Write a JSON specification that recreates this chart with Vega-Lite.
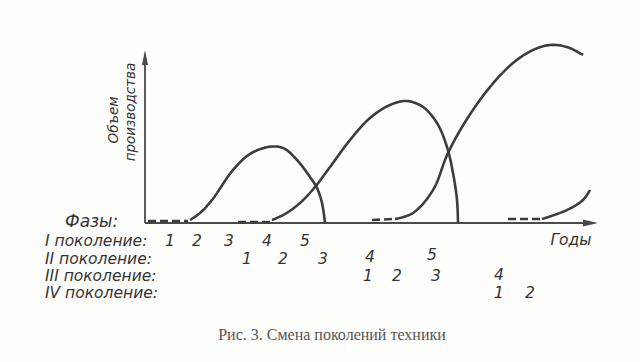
{
  "$schema": "https://vega.github.io/schema/vega-lite/v6.json",
  "width": 640,
  "height": 362,
  "padding": 0,
  "autosize": {"type": "none"},
  "background": "#fdfdfb",
  "config": {"view": {"stroke": null}},
  "datasets": {
    "curves": [
      {"g": "I", "kind": "solid", "t": 45, "v": 3},
      {"g": "I", "kind": "solid", "t": 55, "v": 10},
      {"g": "I", "kind": "solid", "t": 67, "v": 23},
      {"g": "I", "kind": "solid", "t": 88, "v": 53},
      {"g": "I", "kind": "solid", "t": 105, "v": 69},
      {"g": "I", "kind": "solid", "t": 123, "v": 76},
      {"g": "I", "kind": "solid", "t": 138, "v": 75},
      {"g": "I", "kind": "solid", "t": 152, "v": 63},
      {"g": "I", "kind": "solid", "t": 165, "v": 46},
      {"g": "I", "kind": "solid", "t": 172, "v": 35},
      {"g": "I", "kind": "solid", "t": 177, "v": 20},
      {"g": "I", "kind": "solid", "t": 180, "v": 0},
      {"g": "II", "kind": "solid", "t": 127, "v": 3},
      {"g": "II", "kind": "solid", "t": 140, "v": 9},
      {"g": "II", "kind": "solid", "t": 155, "v": 20},
      {"g": "II", "kind": "solid", "t": 170, "v": 36},
      {"g": "II", "kind": "solid", "t": 185, "v": 56},
      {"g": "II", "kind": "solid", "t": 205, "v": 83},
      {"g": "II", "kind": "solid", "t": 225, "v": 105},
      {"g": "II", "kind": "solid", "t": 245, "v": 118},
      {"g": "II", "kind": "solid", "t": 262, "v": 122},
      {"g": "II", "kind": "solid", "t": 278, "v": 116},
      {"g": "II", "kind": "solid", "t": 292, "v": 100},
      {"g": "II", "kind": "solid", "t": 302, "v": 76},
      {"g": "II", "kind": "solid", "t": 308, "v": 50},
      {"g": "II", "kind": "solid", "t": 312, "v": 23},
      {"g": "II", "kind": "solid", "t": 313, "v": 0},
      {"g": "III", "kind": "solid", "t": 250, "v": 4},
      {"g": "III", "kind": "solid", "t": 268, "v": 10},
      {"g": "III", "kind": "solid", "t": 288, "v": 33},
      {"g": "III", "kind": "solid", "t": 303, "v": 70},
      {"g": "III", "kind": "solid", "t": 322, "v": 104},
      {"g": "III", "kind": "solid", "t": 345, "v": 136},
      {"g": "III", "kind": "solid", "t": 368, "v": 160},
      {"g": "III", "kind": "solid", "t": 388, "v": 173},
      {"g": "III", "kind": "solid", "t": 405, "v": 178},
      {"g": "III", "kind": "solid", "t": 422, "v": 176},
      {"g": "III", "kind": "solid", "t": 438, "v": 168},
      {"g": "IV", "kind": "solid", "t": 397, "v": 4},
      {"g": "IV", "kind": "solid", "t": 422, "v": 13},
      {"g": "IV", "kind": "solid", "t": 438, "v": 23},
      {"g": "IV", "kind": "solid", "t": 445, "v": 33},
      {"g": "dI", "kind": "dash", "t": 3, "v": 2},
      {"g": "dI", "kind": "dash", "t": 43, "v": 2},
      {"g": "dII", "kind": "dash", "t": 93, "v": 1},
      {"g": "dII", "kind": "dash", "t": 126, "v": 1},
      {"g": "dIII", "kind": "dash", "t": 227, "v": 3},
      {"g": "dIII", "kind": "dash", "t": 248, "v": 4},
      {"g": "dIV", "kind": "dash", "t": 363, "v": 4},
      {"g": "dIV", "kind": "dash", "t": 396, "v": 4}
    ],
    "axes": [
      {"g": "x", "t": 0, "v": 0},
      {"g": "x", "t": 445, "v": 0},
      {"g": "y", "t": 0, "v": 0},
      {"g": "y", "t": 0, "v": 161}
    ],
    "labels": [
      {"t": -100, "v": -18, "text": "I поколение:"},
      {"t": -100, "v": -35.5, "text": "II поколение:"},
      {"t": -100, "v": -52.5, "text": "III поколение:"},
      {"t": -100, "v": -70, "text": "IV поколение:"}
    ],
    "phase": [
      {"t": -80, "v": 1, "text": "Фазы:"}
    ],
    "numbers": [
      {"t": 25, "v": -18, "text": "1"},
      {"t": 52, "v": -18, "text": "2"},
      {"t": 84, "v": -18, "text": "3"},
      {"t": 122, "v": -18, "text": "4"},
      {"t": 160, "v": -18, "text": "5"},
      {"t": 102, "v": -35.5, "text": "1"},
      {"t": 138, "v": -35.5, "text": "2"},
      {"t": 178, "v": -35.5, "text": "3"},
      {"t": 225, "v": -34, "text": "4"},
      {"t": 287, "v": -32, "text": "5"},
      {"t": 223, "v": -52.5, "text": "1"},
      {"t": 252, "v": -52.5, "text": "2"},
      {"t": 291, "v": -52.5, "text": "3"},
      {"t": 354, "v": -52, "text": "4"},
      {"t": 354, "v": -70, "text": "1"},
      {"t": 385, "v": -70, "text": "2"},
      {"t": 426, "v": -17, "text": "Годы"}
    ],
    "ytitle": [
      {"t": -31, "v": 103, "text": "Объем"},
      {"t": -14, "v": 111, "text": "производства"}
    ],
    "caption": [
      {"t": 187, "v": -112, "text": "Рис. 3. Смена поколений техники"}
    ],
    "arrows": [
      {"t": 443, "v": 0, "dir": "right"},
      {"t": 0, "v": 163, "dir": "up"}
    ]
  },
  "encoding": {
    "x": {"field": "t", "type": "quantitative", "scale": {"domain": [-145, 495], "nice": false, "zero": false}, "axis": null},
    "y": {"field": "v", "type": "quantitative", "scale": {"domain": [-139, 223], "nice": false, "zero": false}, "axis": null}
  },
  "layer": [
    {
      "data": {"name": "axes"},
      "mark": {"type": "line", "color": "#4a4a4a", "strokeWidth": 1.8},
      "encoding": {"detail": {"field": "g"}}
    },
    {
      "data": {"name": "arrows"},
      "transform": [{"filter": "datum.dir == 'right'"}],
      "mark": {"type": "point", "filled": true, "color": "#4a4a4a", "opacity": 1, "size": 400, "shape": "M1,0 L-0.5,0.35 L-0.5,-0.35 Z"}
    },
    {
      "data": {"name": "arrows"},
      "transform": [{"filter": "datum.dir == 'up'"}],
      "mark": {"type": "point", "filled": true, "color": "#4a4a4a", "opacity": 1, "size": 400, "shape": "M0,-1 L0.3,0.5 L-0.3,0.5 Z"}
    },
    {
      "data": {"name": "curves"},
      "mark": {"type": "line", "color": "#3c3c3c", "strokeWidth": 2.6, "interpolate": "catmull-rom"},
      "encoding": {
        "detail": {"field": "g"},
        "strokeDash": {"field": "kind", "type": "nominal", "scale": {"domain": ["solid", "dash"], "range": [[1, 0], [8, 4]]}, "legend": null},
        "strokeWidth": {"field": "kind", "type": "nominal", "scale": {"domain": ["solid", "dash"], "range": [2.6, 1.7]}, "legend": null}
      }
    },
    {
      "data": {"name": "labels"},
      "mark": {"type": "text", "align": "left", "baseline": "middle", "font": "DejaVu Sans", "fontStyle": "italic", "fontSize": 15.5, "color": "#333333"},
      "encoding": {"text": {"field": "text"}}
    },
    {
      "data": {"name": "phase"},
      "mark": {"type": "text", "align": "left", "baseline": "middle", "font": "DejaVu Sans", "fontStyle": "italic", "fontSize": 17, "color": "#333333"},
      "encoding": {"text": {"field": "text"}}
    },
    {
      "data": {"name": "numbers"},
      "mark": {"type": "text", "align": "center", "baseline": "middle", "font": "DejaVu Sans", "fontStyle": "italic", "fontSize": 15.5, "color": "#333333"},
      "encoding": {"text": {"field": "text"}}
    },
    {
      "data": {"name": "ytitle"},
      "mark": {"type": "text", "align": "center", "baseline": "middle", "angle": 270, "font": "DejaVu Sans", "fontStyle": "italic", "fontSize": 13.5, "color": "#333333"},
      "encoding": {"text": {"field": "text"}}
    },
    {
      "data": {"name": "caption"},
      "mark": {"type": "text", "align": "center", "baseline": "middle", "font": "Liberation Serif", "fontSize": 16, "color": "#555555"},
      "encoding": {"text": {"field": "text"}}
    }
  ]
}
